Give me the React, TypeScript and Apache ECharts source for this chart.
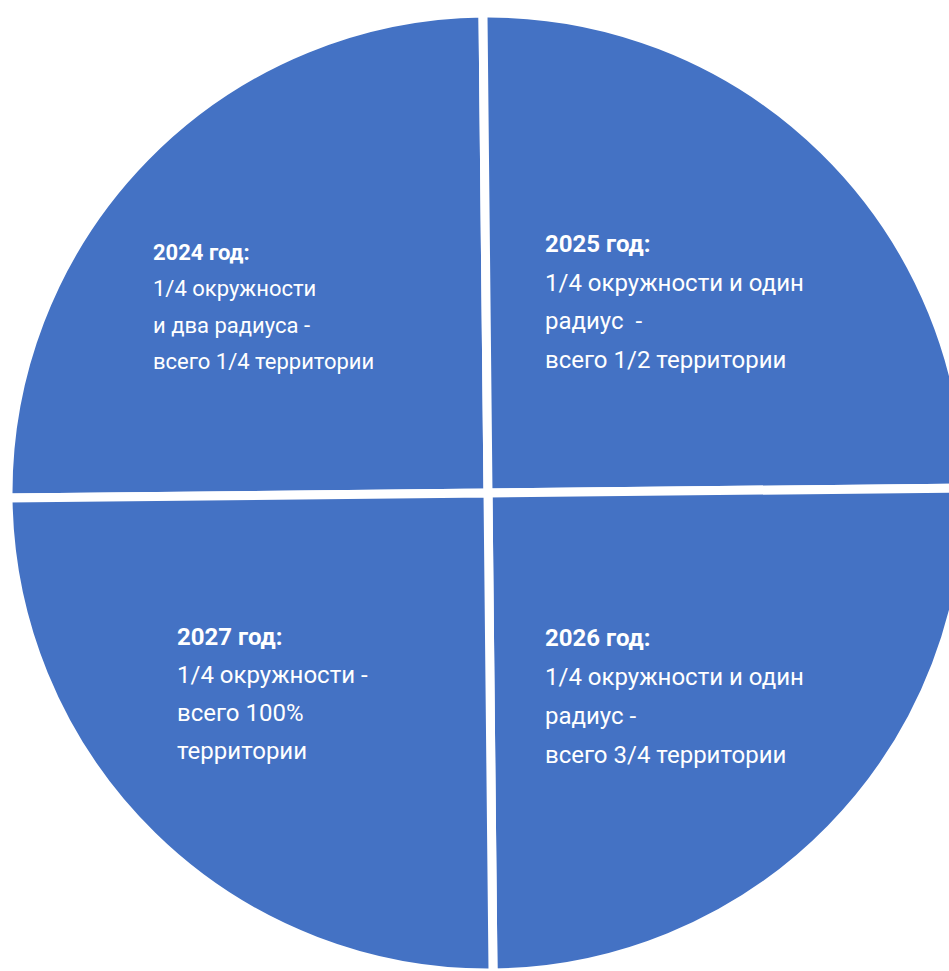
import React, { useEffect, useRef } from "react";
import * as echarts from "echarts";

const CATEGORIES = ["2024 год:", "2025 год:", "2026 год:", "2027 год:"];
const SHARES = [25, 25, 25, 25];
const DESCRIPTIONS = [
  ["1/4 окружности", "и два радиуса -", "всего 1/4 территории"],
  ["1/4 окружности и один", "радиус  -", "всего 1/2 территории"],
  ["1/4 окружности и один", "радиус -", "всего 3/4 территории"],
  ["1/4 окружности -", "всего 100%", "территории"],
];

const LABEL_POS = [
  [153, 234],
  [545, 225],
  [545, 618],
  [177, 618],
];
const LINE_HEIGHTS = [36.5, 38.5, 39, 38];
const FONT_SIZES = [22, 24, 24, 24];

const BLUE = "#4472C4";
const FONT = "Roboto, 'Noto Sans', sans-serif";

export default function App() {
  const ref = useRef<HTMLDivElement>(null);
  useEffect(() => {
    if (!ref.current) return;
    const chart = echarts.init(ref.current, undefined, { renderer: "svg" });
    const data = CATEGORIES.map((name, i) => ({
      name,
      value: SHARES[i],
      label: {
        rich: {
          t: { fontFamily: FONT, fontWeight: "bold", fontSize: FONT_SIZES[i], lineHeight: LINE_HEIGHTS[i], color: "#fff" },
          d: { fontFamily: FONT, fontSize: FONT_SIZES[i], lineHeight: LINE_HEIGHTS[i], color: "#fff" },
        },
      },
    }));
    chart.setOption({
      animation: false,
      backgroundColor: "#ffffff",
      series: [
        {
          type: "pie",
          center: [488, 493],
          radius: 480,
          startAngle: 180.6,
          clockwise: true,
          silent: true,
          emphasis: { disabled: true },
          itemStyle: { color: BLUE, borderColor: "#ffffff", borderWidth: 9 },
          label: {
            show: true,
            position: "inside",
            align: "left",
            verticalAlign: "top",
            formatter: (p: any) =>
              `{t|${p.name}}\n` + DESCRIPTIONS[p.dataIndex].map((l) => `{d|${l}}`).join("\n"),
          },
          labelLine: { show: false },
          labelLayout: (p: any) => ({
            x: LABEL_POS[p.dataIndex][0],
            y: LABEL_POS[p.dataIndex][1],
            align: "left",
            verticalAlign: "top",
          }),
          data,
        },
      ],
      graphic: [
        {
          type: "rect",
          shape: { x: 866, y: 212, width: 12, height: 16 },
          style: { fill: BLUE },
          silent: true,
        },
      ],
    });
    return () => chart.dispose();
  }, []);
  return (
    <div
      ref={ref}
      style={{ position: "fixed", left: 0, top: 0, width: 949, height: 971 }}
    />
  );
}
